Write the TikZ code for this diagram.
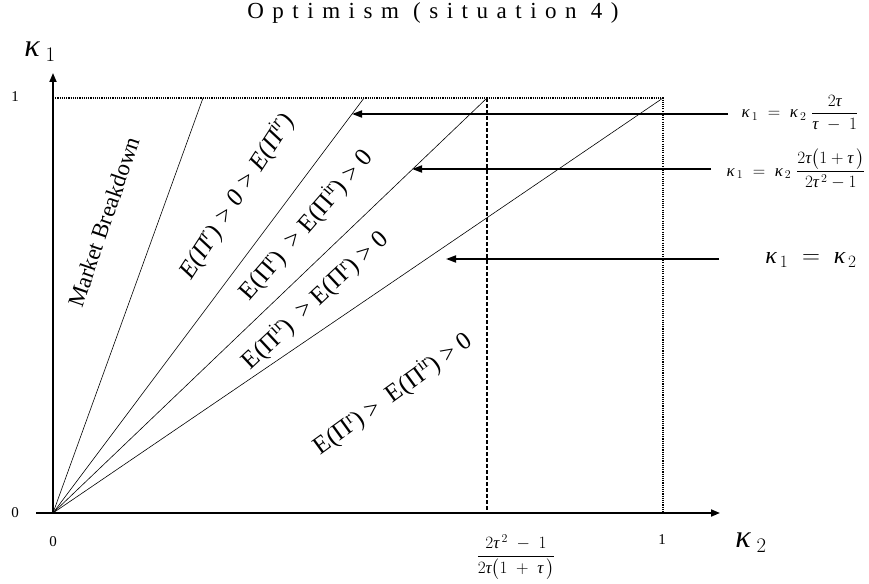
\documentclass[tikz,border=0pt]{standalone}
\usepackage{fontspec}
\setmainfont{Liberation Serif}
\usepackage{amsmath}
\usetikzlibrary{arrows.meta}
\newcommand{\kp}{\mbox{\itshape κ}}
\newcommand{\ta}{\mbox{\itshape τ}}
\newcommand{\PIr}{(Π\textsuperscript{r})}
\newcommand{\PIir}{(Π\textsuperscript{ir})}
\begin{document}
\begin{tikzpicture}[x=1pt,y=-1pt,
  axisline/.style={line width=1.8pt,-{Triangle[length=9pt,width=7pt]}},
  ray/.style={line width=0.6pt},
  guide/.style={line width=1.6pt,dash pattern=on 1.1pt off 1.1pt},
  dashline/.style={line width=1.2pt,dash pattern=on 4pt off 2pt},
  pointer/.style={line width=1.8pt,-{Triangle[length=10pt,width=7pt]}},
  region/.style={font=\fontsize{25}{25}\selectfont,inner sep=0pt},
  tick/.style={font=\fontsize{15}{15}\selectfont,inner sep=0pt},
  formula/.style={font=\fontsize{17}{17}\selectfont,inner sep=0pt}]
\useasboundingbox (0,0) rectangle (869,583);
% points
\coordinate (O) at (53,513);
\coordinate (Ytop) at (53,73);
\coordinate (Xs) at (36,513);
\coordinate (Xend) at (720,513);
\coordinate (T0) at (53,98);
\coordinate (T1) at (203,98);
\coordinate (T2) at (364,98);
\coordinate (T3) at (487,98);
\coordinate (T4) at (663,98);
\coordinate (B3) at (487,513);
\coordinate (B4) at (663,513);
% title
\node[font=\fontsize{23}{23}\selectfont\addfontfeature{LetterSpace=37}] (title) at (433,13) {Optimism (situation 4)};
% axes
\draw[axisline] (O) -- (Ytop);
\draw[axisline] (Xs) -- (Xend);
% guides
\draw[guide] (T0) -- (T4) -- (B4);
\draw[dashline] (T3) -- (B3);
% rays
\draw[ray] (O) -- (T1);
\draw[ray] (O) -- (T2);
\draw[ray] (O) -- (T3);
\draw[ray] (O) -- (T4);
% axis labels
\node[font=\fontsize{32}{32}\selectfont,inner sep=0pt] (k1) at (40,52) {$\kp_{\;1}$};
\node[font=\fontsize{32}{32}\selectfont,inner sep=0pt] (k2) at (751,543) {$\kp_{\;2}$};
\node[tick] (y1) at (15,97) {1};
\node[tick] (y0) at (15,513) {0};
\node[tick] (x0) at (53,542) {0};
\node[tick] (x1) at (662,540) {1};
\node[font=\fontsize{17}{17}\selectfont,inner sep=0pt] (xf) at (516,557) {$\dfrac{2\ta^{\,2}\;-\;1}{2\ta\bigl(1\;+\;\ta\,\bigr)}$};
% region labels
\node[region,font=\fontsize{23}{23}\selectfont,rotate=71] (mb) at (104,222) {Market Breakdown};
\node[region,rotate=57] (ra) at (237,196) {\itshape E\PIr\ > 0 > E\PIir};
\node[region,rotate=49] (rb) at (306,225) {E\PIr\ \ > E\PIir\ > 0};
\node[region,rotate=43] (rc) at (315,300) {E\PIir\ \ > E\PIr\ > 0};
\node[region,rotate=36] (rd) at (393,394) {E\PIr\ >\ \ E\PIir\ > 0};
% formulas
\node[formula] (f1) at (800,113) {$\kp_{\,1}\;=\;\kp_{\,2}\;\dfrac{2\ta}{\ta\;-\;1}$};
\node[formula] (f2) at (796,169) {$\kp_{\,1}\;=\;\kp_{\,2}\;\dfrac{2\ta\bigl(1+\ta\,\bigr)}{2\ta^{\,2}-1}$};
\node[font=\fontsize{24}{24}\selectfont,inner sep=0pt] (f3) at (811,260) {$\kp_{\,1}\;=\;\kp_{\,2}$};
% pointers
\coordinate (p1s) at (728,114);
\coordinate (p1e) at (352,114);
\coordinate (p2s) at (711,169);
\coordinate (p2e) at (412,169);
\coordinate (p3s) at (719,259);
\coordinate (p3e) at (446,259);
\draw[pointer] (p1s) -- (p1e);
\draw[pointer] (p2s) -- (p2e);
\draw[pointer] (p3s) -- (p3e);
\end{tikzpicture}
\end{document}
